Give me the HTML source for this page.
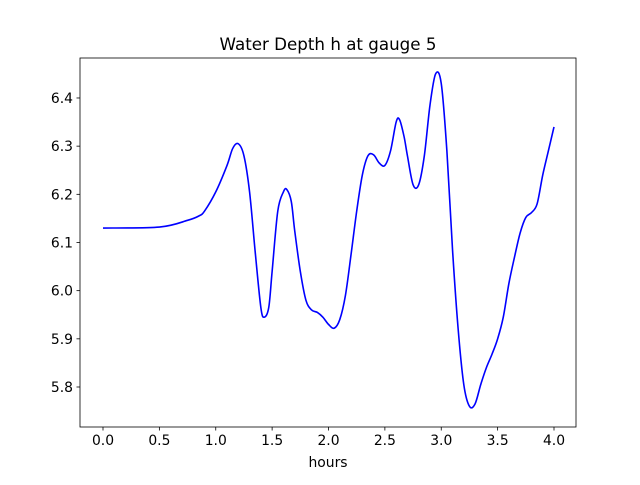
<!DOCTYPE html>
<html><head><meta charset="utf-8"><style>
body{margin:0;background:#fff;}
svg text{font-family:"DejaVu Sans","Liberation Sans",sans-serif;fill:#000;}
</style></head><body>
<svg id="chart" width="640" height="480" xmlns="http://www.w3.org/2000/svg">
<rect width="640" height="480" fill="#fff"/>
<text x="328" y="50" font-size="16.7" text-anchor="middle">Water Depth h at gauge 5</text>
<g id="xt"></g>
<g id="yt"></g>
<path id="line" fill="none" stroke="#0000ff" stroke-width="1.6" stroke-linejoin="round"/>
<rect x="80" y="58" width="496" height="369" fill="none" stroke="#000" stroke-width="0.8"/>
<text x="328" y="467" font-size="13.9" text-anchor="middle">hours</text>
</svg>
<script>
const hours=[0,0.5,0.75,0.85,0.9,1.0,1.1,1.15,1.2,1.25,1.3,1.35,1.4,1.43,1.47,1.5,1.55,1.6,1.63,1.67,1.7,1.75,1.8,1.85,1.9,1.95,2.0,2.05,2.1,2.15,2.2,2.25,2.3,2.35,2.4,2.45,2.5,2.55,2.6,2.63,2.67,2.7,2.75,2.8,2.85,2.9,2.95,3.0,3.05,3.1,3.15,3.2,3.25,3.3,3.35,3.4,3.45,3.5,3.55,3.6,3.65,3.7,3.75,3.8,3.85,3.9,3.95,4.0];
const depth=[6.13,6.132,6.146,6.155,6.165,6.205,6.26,6.295,6.305,6.28,6.205,6.08,5.965,5.945,5.965,6.04,6.165,6.205,6.21,6.185,6.125,6.04,5.98,5.96,5.955,5.945,5.93,5.922,5.94,5.99,6.075,6.165,6.24,6.28,6.282,6.265,6.26,6.29,6.35,6.355,6.32,6.28,6.22,6.22,6.28,6.385,6.45,6.43,6.29,6.085,5.92,5.805,5.76,5.765,5.805,5.84,5.868,5.9,5.945,6.015,6.07,6.12,6.152,6.162,6.18,6.24,6.29,6.34];
const xTicks=[0,0.5,1.0,1.5,2.0,2.5,3.0,3.5,4.0];
const yTicks=[5.8,5.9,6.0,6.1,6.2,6.3,6.4];
const X=v=>103+v*112.75;
const Y=v=>387-(v-5.8)*481.7;
const NS="http://www.w3.org/2000/svg";
const xt=document.getElementById('xt'),yt=document.getElementById('yt');
xTicks.forEach(t=>{
  const l=document.createElementNS(NS,'line');
  
  
  l.setAttribute('x1',X(t));l.setAttribute('x2',X(t));l.setAttribute('y1',427);l.setAttribute('y2',430.5);l.setAttribute('stroke','#000');l.setAttribute('stroke-width','0.8');
  xt.appendChild(l);
  const s=document.createElementNS(NS,'text');
  
  
  s.setAttribute('x',X(t));s.setAttribute('y',445);s.setAttribute('font-size','13.9');s.setAttribute('text-anchor','middle');
  s.textContent=t.toFixed(1);xt.appendChild(s);
});
yTicks.forEach(t=>{
  const l=document.createElementNS(NS,'line');
  
  
  l.setAttribute('x1',76.5);l.setAttribute('x2',80);l.setAttribute('y1',Y(t));l.setAttribute('y2',Y(t));l.setAttribute('stroke','#000');l.setAttribute('stroke-width','0.8');
  yt.appendChild(l);
  const s=document.createElementNS(NS,'text');
  
  
  s.setAttribute('x',73);s.setAttribute('y',Y(t)+5);s.setAttribute('font-size','13.9');s.setAttribute('text-anchor','end');
  s.textContent=t.toFixed(1);yt.appendChild(s);
});
const pts=hours.map((h,i)=>[X(h),Y(depth[i])]);
let d='M'+pts[0][0]+','+pts[0][1];
for(let i=0;i<pts.length-1;i++){
  const p0=pts[Math.max(0,i-1)],p1=pts[i],p2=pts[i+1],p3=pts[Math.min(pts.length-1,i+2)];
  const c1=[p1[0]+(p2[0]-p0[0])/6,p1[1]+(p2[1]-p0[1])/6];
  const c2=[p2[0]-(p3[0]-p1[0])/6,p2[1]-(p3[1]-p1[1])/6];
  d+=' C'+c1+' '+c2+' '+p2;
}
document.getElementById('line').setAttribute('d',d);
</script>
</body></html>
